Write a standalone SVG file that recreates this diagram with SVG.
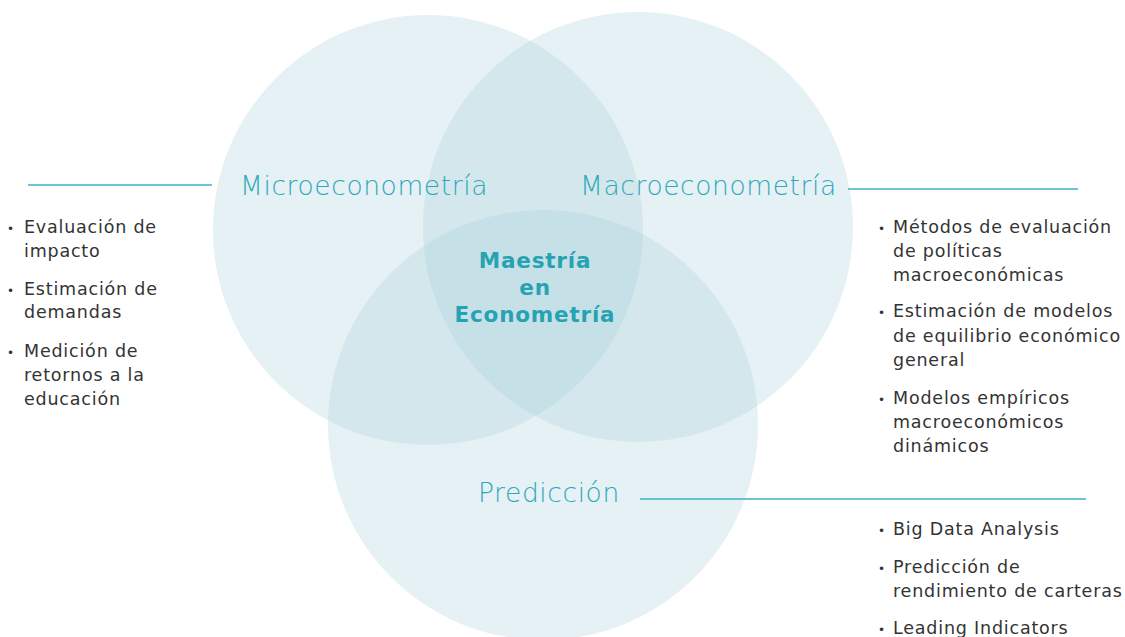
<svg xmlns="http://www.w3.org/2000/svg" width="1125" height="637" viewBox="0 0 1125 637">
<style>
.c{fill:#a8cfdb;fill-opacity:0.3}
.ln{stroke:#3ab2c4;stroke-width:1.3;fill:none}
.lbl{font-family:"DejaVu Sans","Open Sans",sans-serif;font-weight:200;font-size:26.5px;letter-spacing:0.6px;fill:#2ea9ba}
.ctr{font-family:"DejaVu Sans","Open Sans",sans-serif;font-weight:bold;font-size:21.5px;letter-spacing:0.8px;fill:#26a3b3;text-anchor:middle}
.it{font-family:"DejaVu Sans","Open Sans",sans-serif;font-size:17.5px;letter-spacing:0.8px;fill:#333333}
.b{font-family:"DejaVu Sans",sans-serif;font-size:12px;fill:#333333}
</style>
<rect width="1125" height="637" fill="#ffffff"/>
<g id="circle-micro"><circle class="c" cx="428" cy="230" r="215"/></g>
<g id="circle-macro"><circle class="c" cx="638" cy="227" r="215"/></g>
<g id="circle-pred"><circle class="c" cx="543" cy="425" r="215"/></g>
<g id="connectors">
<line class="ln" x1="28" y1="185" x2="212" y2="185"/>
<line class="ln" x1="848" y1="189" x2="1078" y2="189"/>
<line class="ln" x1="640" y1="499" x2="1086" y2="499"/>
</g>
<g id="center">
<text class="ctr" x="535" y="268">Maestría</text>
<text class="ctr" x="535" y="295">en</text>
<text class="ctr" x="535" y="322">Econometría</text>
</g>
<g id="micro">
<text class="lbl" x="240" y="195">Microeconometría</text>
<text class="b" x="7" y="233">•</text>
<text class="it" x="24" y="233">Evaluación de</text>
<text class="it" x="24" y="257">impacto</text>
<text class="b" x="7" y="295">•</text>
<text class="it" x="24" y="295">Estimación de</text>
<text class="it" x="24" y="318">demandas</text>
<text class="b" x="7" y="357">•</text>
<text class="it" x="24" y="357">Medición de</text>
<text class="it" x="24" y="381">retornos a la</text>
<text class="it" x="24" y="405">educación</text>
</g>
<g id="macro">
<text class="lbl" x="580" y="195">Macroeconometría</text>
<text class="b" x="878" y="233">•</text>
<text class="it" x="893" y="233">Métodos de evaluación</text>
<text class="it" x="893" y="257">de políticas</text>
<text class="it" x="893" y="281">macroeconómicas</text>
<text class="b" x="878" y="317">•</text>
<text class="it" x="893" y="317">Estimación de modelos</text>
<text class="it" x="893" y="342">de equilibrio económico</text>
<text class="it" x="893" y="366">general</text>
<text class="b" x="878" y="404">•</text>
<text class="it" x="893" y="404">Modelos empíricos</text>
<text class="it" x="893" y="428">macroeconómicos</text>
<text class="it" x="893" y="452">dinámicos</text>
</g>
<g id="pred">
<text class="lbl" x="478" y="502">Predicción</text>
<text class="b" x="878" y="535">•</text>
<text class="it" x="893" y="535">Big Data Analysis</text>
<text class="b" x="878" y="573">•</text>
<text class="it" x="893" y="573">Predicción de</text>
<text class="it" x="893" y="597">rendimiento de carteras</text>
<text class="b" x="878" y="634">•</text>
<text class="it" x="893" y="634">Leading Indicators</text>
</g>
</svg>
